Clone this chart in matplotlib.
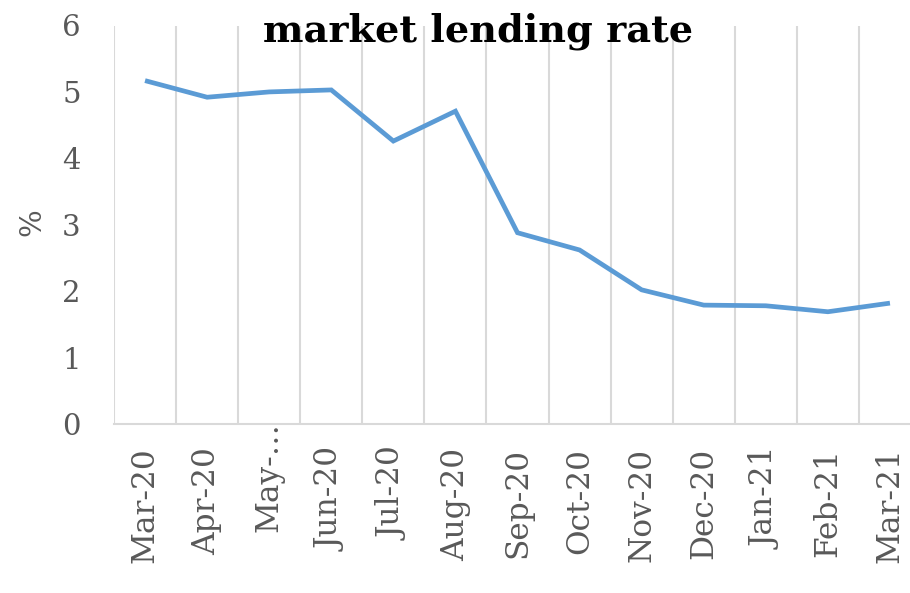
import matplotlib
matplotlib.use("Agg")
import matplotlib.pyplot as plt
import matplotlib.transforms as mtransforms
import numpy as np

months = ["Mar-20", "Apr-20", "May-20", "Jun-20", "Jul-20", "Aug-20", "Sep-20",
          "Oct-20", "Nov-20", "Dec-20", "Jan-21", "Feb-21", "Mar-21"]
tick_labels = ["Mar-20", "Apr-20", "May-…", "Jun-20", "Jul-20", "Aug-20", "Sep-20",
               "Oct-20", "Nov-20", "Dec-20", "Jan-21", "Feb-21", "Mar-21"]
lending_rate = [5.17, 4.92, 5.00, 5.03, 4.26, 4.71, 2.88,
                2.62, 2.02, 1.79, 1.78, 1.69, 1.82]
y_ticks = [0, 1, 2, 3, 4, 5, 6]

W, H = 910, 593
fig = plt.figure(figsize=(W / 100, H / 100), dpi=100)
ax = fig.add_axes([114 / W, (H - 424) / H, (921 - 114) / W, (424 - 25.5) / H])

x = np.arange(len(months))
ax.plot(x, lending_rate, color="#5B9BD5", lw=3.4, solid_joinstyle="miter",
        solid_capstyle="butt", zorder=3)

ax.set_xlim(-0.5, len(months) - 0.5)
ax.set_ylim(0, 6)

# vertical gridlines on category boundaries
ax.set_xticks(np.arange(-0.5, len(months), 1.0), minor=True)
ax.grid(True, which="minor", axis="x", color="#d9d9d9", lw=1.5)
ax.grid(False, which="major")

ax.set_xticks(x)
ax.set_xticklabels(tick_labels, rotation=90, fontsize=22.5, family="DejaVu Serif",
                   color="#595959")
ax.set_yticks(y_ticks)
ax.set_yticklabels([str(v) for v in y_ticks], fontsize=21, family="DejaVu Serif",
                   color="#595959")
ax.tick_params(axis="x", which="both", length=0, pad=17)
ax.tick_params(axis="y", which="both", length=0, pad=24)

# the truncated label sits higher, starting right under the axis line
lab = ax.get_xticklabels()[2]
lab.set_transform(lab.get_transform() + mtransforms.ScaledTranslation(0, 26 / 100, fig.dpi_scale_trans))

for side in ("top", "right", "left"):
    ax.spines[side].set_visible(False)
ax.spines["bottom"].set_color("#d9d9d9")
ax.spines["bottom"].set_linewidth(1.5)

fig.text(32 / W, 1 - 222 / H, "%", rotation=90, ha="center", va="center",
         fontsize=21, family="DejaVu Serif", color="#595959")
fig.text(478 / W, 1 - 41 / H, "market lending rate", ha="center", va="baseline",
         fontsize=27.5, fontweight="bold", family="DejaVu Serif", color="black")

fig.savefig("out.png", dpi=100)
